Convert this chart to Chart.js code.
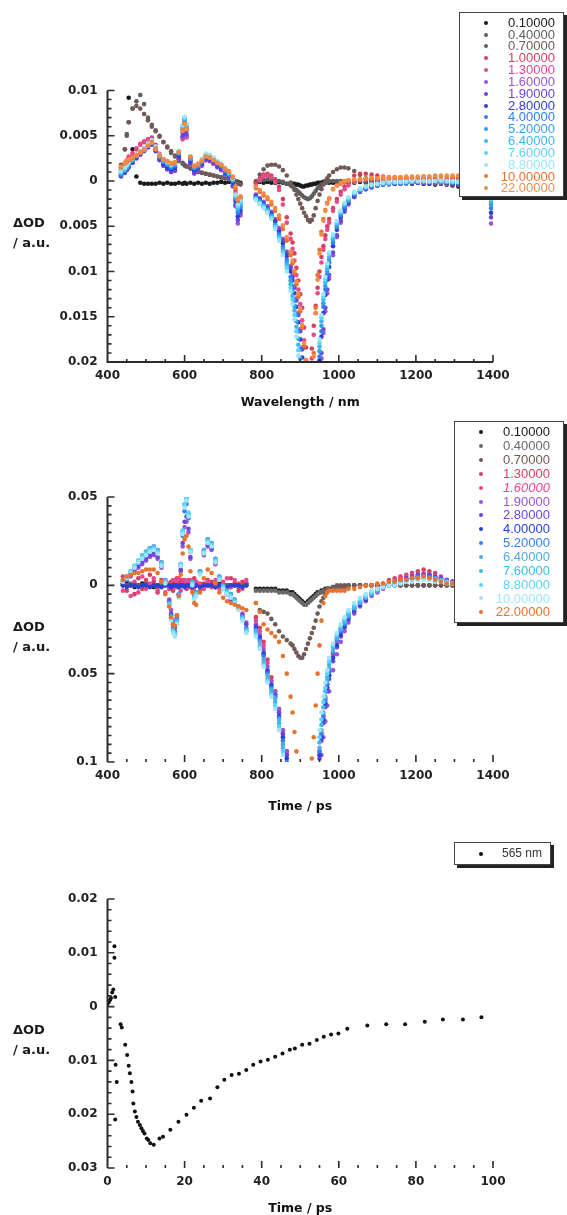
<!DOCTYPE html>
<html>
<head>
<meta charset="utf-8">
<title>Transient absorption</title>
<script src="https://cdn.jsdelivr.net/npm/chart.js@4.4.1/dist/chart.umd.min.js"></script>
<style>
  html, body { margin: 0; padding: 0; background: #fff; }
  body { position: relative; width: 567px; height: 1215px; overflow: hidden; }
  canvas { position: absolute; left: 0; }
  .ylab { position: absolute; left: 13px; font: bold 13px "DejaVu Sans", sans-serif; line-height: 20.5px; color: #1a1a1a; }
  .legend { position: absolute; background: #fff; border: 1px solid #444; box-shadow: 3px 3px 0 #222; font-family: "Liberation Sans", Arial, sans-serif; z-index: 2; }
  .legend .row { position: relative; }
  .legend .dot { position: absolute; width: 4px; height: 4px; border-radius: 50%; top: 50%; margin: -2px 0 0 -2px; }
  .legend .txt { position: absolute; top: 0; white-space: nowrap; }
</style>
</head>
<body>
<canvas id="c1" width="567" height="415" style="top:0"></canvas>
<canvas id="c2" width="567" height="405" style="top:415px"></canvas>
<canvas id="c3" width="567" height="400" style="top:820px"></canvas>
<div class="ylab" style="top:212.5px">ΔOD<br>/ a.u.</div>
<div class="ylab" style="top:616.5px">ΔOD<br>/ a.u.</div>
<div class="ylab" style="top:1019.5px">ΔOD<br>/ a.u.</div>
<div class="legend" id="leg1" style="left:459px;top:12px;width:103px;height:183px"></div>
<div class="legend" id="leg2" style="left:454px;top:421px;width:108px;height:200px"></div>
<div class="legend" id="leg3" style="left:454px;top:842px;width:95px;height:21px"></div>
<script>
// ---- chart 1: spectra, wavelength in nm ----
const wl1 = [435,445,450,455,465,475,485,495,505,515,525,535,545,555,565,575,585,595,600,605,615,625,635,645,655,665,675,685,695,705,715,725,732,738,745,
  785,795,805,815,825,835,845,855,865,875,880,885,890,895,900,905,910,915,920,925,930,935,940,945,950,955,960,965,970,975,985,995,1005,1015,1025,1040,1055,1070,1085,1100,1115,1130,1145,1160,1175,1190,1205,1220,1235,1250,1265,1280,1295,1310,1395];
const delays1 = ['0.10000','0.40000','0.70000','1.00000','1.30000','1.60000','1.90000','2.80000','4.00000','5.20000','6.40000','7.60000','8.80000','10.00000','22.00000'];
const colors1 = ['#1a1a1a','#5e5e5e','#6f5a55','#d6405f','#e8488c','#9a55d8','#6a45d8','#2a40d8','#3380f0','#35a0e8','#3cb8f0','#5cd4f8','#9ee4f6','#e8732f','#f28c45'];

const sp1_010 = [0.0010,0.0013,0.0020,0.0092,0.0035,0.0005,-0.0002,-0.0003,-0.0003,-0.0003,-0.0003,-0.0002,-0.0003,-0.0002,-0.0003,-0.0003,-0.0002,-0.0003,-0.0002,-0.0003,-0.0002,-0.0003,-0.0002,-0.0003,-0.0002,-0.0003,-0.0002,-0.0002,-0.0001,-0.0002,-0.0001,-0.0001,0,-0.0001,-0.0002,
  -0.0002,-0.0001,-0.0002,-0.0001,-0.0002,-0.0002,-0.0001,-0.0002,-0.0003,-0.0002,-0.0003,-0.0003,-0.0004,-0.0004,-0.0005,-0.0006,-0.0006,-0.0005,-0.0005,-0.0004,-0.0004,-0.0003,-0.0003,-0.0002,-0.0002,-0.0002,-0.0001,-0.0002,-0.0001,-0.0002,-0.0002,-0.0001,-0.0002,-0.0001,-0.0002,-0.0002,-0.0001,-0.0002,-0.0002,-0.0001,-0.0002,-0.0002,-0.0003,-0.0002,-0.0002,-0.0003,-0.0002,-0.0003,-0.0003,-0.0004,-0.0003,-0.0004,-0.0005,-0.0006,-0.0010];
const sp1_040 = [0.0018,0.0035,0.0050,0.0065,0.0080,0.0088,0.0095,0.0085,0.0070,0.0062,0.0056,0.0049,0.0043,0.0037,0.0031,0.0027,0.0022,0.0019,0.0017,0.0016,0.0014,0.0012,0.0010,0.0009,0.0008,0.0007,0.0006,0.0005,0.0004,0.0003,0.0002,0.0001,0,-0.0002,-0.0003,
  -0.0001,0,0.0001,0.0002,0.0002,0.0001,0,-0.0001,-0.0003,-0.0005,-0.0006,-0.0008,-0.0010,-0.0012,-0.0014,-0.0016,-0.0018,-0.0019,-0.0020,-0.0019,-0.0017,-0.0014,-0.0011,-0.0008,-0.0006,-0.0004,-0.0003,-0.0002,-0.0001,0,0,0,0,-0.0001,0,-0.0001,0,-0.0001,-0.0001,0,-0.0001,-0.0001,-0.0001,-0.0002,-0.0001,-0.0002,-0.0002,-0.0002,-0.0002,-0.0003,-0.0003,-0.0003,-0.0004,-0.0004,-0.0023];
const sp1_070 = [0.0015,0.0035,0.0052,0.0065,0.0080,0.0083,0.0080,0.0074,0.0067,0.0060,0.0055,0.0050,0.0043,0.0038,0.0033,0.0028,0.0024,0.0020,0.0018,0.0016,0.0014,0.0012,0.0010,0.0009,0.0008,0.0007,0.0006,0.0005,0.0004,0.0003,0.0002,0.0001,0,-0.0003,-0.0004,
  0,0.0007,0.0013,0.0017,0.0018,0.0018,0.0016,0.0012,0.0006,-0.0002,-0.0006,-0.0010,-0.0015,-0.0020,-0.0025,-0.0030,-0.0035,-0.0039,-0.0043,-0.0045,-0.0043,-0.0038,-0.0030,-0.0022,-0.0015,-0.0009,-0.0004,0,0.0003,0.0006,0.0010,0.0013,0.0015,0.0015,0.0014,0.0011,0.0007,0.0003,0.0001,0,0,0.0001,0,0,0.0001,0,0,0.0001,0,0.0001,0,0,0,-0.0001,-0.0015];
const sp1_100 = [0.0012,0.0018,0.0022,0.0026,0.0030,0.0035,0.0040,0.0043,0.0046,0.0048,0.0040,0.0030,0.0023,0.0020,0.0016,0.0017,0.0028,0.0048,0.0054,0.0049,0.0022,0.0012,0.0014,0.0019,0.0024,0.0023,0.0020,0.0017,0.0015,0.0011,0.0008,0.0002,-0.0010,-0.0024,-0.0019,
  -0.0003,0.0003,0.0007,0.0008,0.0006,0.0002,-0.0006,-0.0020,-0.0040,-0.0058,-0.0068,-0.0080,-0.0096,-0.0110,-0.0125,-0.0140,-0.0162,-0.0184,null,null,-0.0185,-0.0160,-0.0138,-0.0118,-0.0100,-0.0084,-0.0072,-0.0060,-0.0050,-0.0042,-0.0030,-0.0020,-0.0012,-0.0006,-0.0002,0.0006,0.0008,0.0008,0.0007,0.0006,0.0005,0.0004,0.0004,0.0003,0.0003,0.0003,0.0002,0.0003,0.0002,0.0003,0.0002,0.0002,0.0003,0.0003,-0.0010];
const sp1_130 = [0.0013,0.0019,0.0023,0.0027,0.0031,0.0036,0.0041,0.0044,0.0046,0.0047,0.0039,0.0029,0.0022,0.0018,0.0014,0.0015,0.0026,0.0046,0.0053,0.0048,0.0020,0.0010,0.0012,0.0017,0.0023,0.0022,0.0019,0.0016,0.0014,0.0010,0.0007,0.0001,-0.0013,-0.0028,-0.0022,
  -0.0005,0.0001,0.0005,0.0006,0.0004,-0.0001,-0.0010,-0.0026,-0.0046,-0.0064,-0.0075,-0.0088,-0.0104,-0.0120,-0.0136,-0.0154,-0.0176,-0.0198,null,null,-0.0196,-0.0170,-0.0146,-0.0124,-0.0106,-0.0090,-0.0076,-0.0064,-0.0054,-0.0046,-0.0033,-0.0023,-0.0015,-0.0009,-0.0005,-0.0001,0.0001,0.0002,0.0002,0.0002,0.0001,0.0001,0.0001,0,0.0001,0,0.0001,0.0001,0,0.0001,0,0,0.0001,0,-0.0018];
const sp1_160 = [0.0006,0.0010,0.0013,0.0016,0.0021,0.0026,0.0030,0.0034,0.0038,0.0041,0.0034,0.0024,0.0017,0.0013,0.0010,0.0011,0.0024,0.0048,0.0056,0.0050,0.0018,0.0008,0.0011,0.0017,0.0023,0.0022,0.0019,0.0015,0.0012,0.0007,0.0003,-0.0006,-0.0028,-0.0047,-0.0038,
  -0.0015,-0.0019,-0.0023,-0.0028,-0.0034,-0.0042,-0.0052,-0.0064,-0.0078,-0.0094,-0.0104,-0.0116,-0.0130,-0.0146,-0.0164,-0.0184,null,null,null,null,null,null,null,null,null,-0.0196,-0.0168,-0.0144,-0.0124,-0.0108,-0.0082,-0.0062,-0.0046,-0.0034,-0.0026,-0.0018,-0.0012,-0.0009,-0.0007,-0.0005,-0.0004,-0.0004,-0.0003,-0.0003,-0.0003,-0.0002,-0.0002,-0.0002,-0.0002,-0.0002,-0.0002,-0.0003,-0.0003,-0.0004,-0.0047];
const sp1_190 = [0.0005,0.0009,0.0012,0.0015,0.0020,0.0025,0.0029,0.0033,0.0037,0.0040,0.0033,0.0023,0.0017,0.0013,0.0010,0.0012,0.0025,0.0050,0.0058,0.0052,0.0019,0.0009,0.0012,0.0018,0.0024,0.0023,0.0020,0.0016,0.0013,0.0008,0.0004,-0.0005,-0.0026,-0.0043,-0.0035,
  -0.0016,-0.0020,-0.0025,-0.0030,-0.0036,-0.0044,-0.0054,-0.0066,-0.0080,-0.0096,-0.0106,-0.0118,-0.0132,-0.0148,-0.0166,-0.0186,null,null,null,null,null,null,null,null,null,-0.0190,-0.0164,-0.0140,-0.0120,-0.0104,-0.0079,-0.0060,-0.0044,-0.0033,-0.0025,-0.0017,-0.0012,-0.0009,-0.0007,-0.0005,-0.0004,-0.0003,-0.0003,-0.0003,-0.0002,-0.0002,-0.0002,-0.0002,-0.0002,-0.0001,-0.0002,-0.0002,-0.0003,-0.0003,-0.0040];
const sp1_280 = [0.0006,0.0010,0.0013,0.0016,0.0021,0.0026,0.0030,0.0034,0.0038,0.0041,0.0034,0.0025,0.0019,0.0015,0.0013,0.0015,0.0028,0.0054,0.0062,0.0056,0.0022,0.0012,0.0015,0.0020,0.0026,0.0025,0.0022,0.0018,0.0015,0.0010,0.0006,-0.0002,-0.0022,-0.0039,-0.0032,
  -0.0017,-0.0021,-0.0025,-0.0030,-0.0036,-0.0045,-0.0056,-0.0069,-0.0083,-0.0100,-0.0110,-0.0124,-0.0139,-0.0156,-0.0175,-0.0195,null,null,null,null,null,null,null,null,-0.0198,-0.0172,-0.0146,-0.0126,-0.0109,-0.0095,-0.0072,-0.0054,-0.0040,-0.0030,-0.0023,-0.0016,-0.0011,-0.0008,-0.0006,-0.0005,-0.0004,-0.0003,-0.0003,-0.0002,-0.0002,-0.0002,-0.0002,-0.0001,-0.0002,-0.0001,-0.0001,-0.0002,-0.0002,-0.0003,-0.0035];
const sp1_400 = [0.0007,0.0011,0.0014,0.0017,0.0022,0.0027,0.0031,0.0035,0.0039,0.0042,0.0035,0.0026,0.0021,0.0018,0.0015,0.0017,0.0030,0.0057,0.0066,0.0059,0.0024,0.0014,0.0016,0.0021,0.0027,0.0026,0.0023,0.0019,0.0016,0.0011,0.0007,0,-0.0020,-0.0035,-0.0029,
  -0.0018,-0.0022,-0.0026,-0.0031,-0.0038,-0.0048,-0.0059,-0.0073,-0.0087,-0.0106,-0.0117,-0.0132,-0.0148,-0.0166,-0.0186,null,null,null,null,null,null,null,null,null,-0.0194,-0.0166,-0.0139,-0.0120,-0.0103,-0.0090,-0.0068,-0.0051,-0.0038,-0.0029,-0.0022,-0.0015,-0.0011,-0.0008,-0.0006,-0.0005,-0.0004,-0.0003,-0.0002,-0.0002,-0.0002,-0.0001,-0.0001,-0.0001,-0.0001,-0.0001,-0.0001,-0.0001,-0.0002,-0.0002,-0.0030];
const sp1_520 = [0.0008,0.0012,0.0015,0.0018,0.0023,0.0028,0.0032,0.0036,0.0040,0.0043,0.0036,0.0027,0.0022,0.0019,0.0016,0.0018,0.0031,0.0059,0.0068,0.0061,0.0025,0.0015,0.0017,0.0022,0.0028,0.0027,0.0024,0.0020,0.0017,0.0012,0.0008,0.0001,-0.0018,-0.0032,-0.0027,
  -0.0019,-0.0023,-0.0027,-0.0032,-0.0039,-0.0049,-0.0061,-0.0075,-0.0090,-0.0110,-0.0122,-0.0138,-0.0155,-0.0174,-0.0196,null,null,null,null,null,null,null,null,null,-0.0188,-0.0160,-0.0135,-0.0116,-0.0100,-0.0087,-0.0065,-0.0049,-0.0036,-0.0027,-0.0021,-0.0014,-0.0010,-0.0007,-0.0005,-0.0004,-0.0003,-0.0003,-0.0002,-0.0002,-0.0001,-0.0001,-0.0001,-0.0001,-0.0001,0,-0.0001,-0.0001,-0.0001,-0.0002,-0.0026];
const sp1_640 = [0.0009,0.0013,0.0016,0.0019,0.0024,0.0028,0.0032,0.0036,0.0040,0.0044,0.0037,0.0028,0.0023,0.0020,0.0017,0.0019,0.0032,0.0060,0.0069,0.0062,0.0026,0.0016,0.0018,0.0023,0.0029,0.0028,0.0025,0.0021,0.0018,0.0013,0.0009,0.0002,-0.0017,-0.0030,-0.0025,
  -0.0020,-0.0024,-0.0028,-0.0033,-0.0040,-0.0050,-0.0062,-0.0077,-0.0093,-0.0114,-0.0127,-0.0143,-0.0161,-0.0181,null,null,null,null,null,null,null,null,null,null,-0.0183,-0.0155,-0.0131,-0.0112,-0.0097,-0.0084,-0.0063,-0.0047,-0.0035,-0.0026,-0.0020,-0.0013,-0.0009,-0.0007,-0.0005,-0.0004,-0.0003,-0.0002,-0.0002,-0.0001,-0.0001,-0.0001,-0.0001,0,-0.0001,0,0,-0.0001,-0.0001,-0.0001,-0.0022];
const sp1_760 = [0.0010,0.0014,0.0017,0.0020,0.0024,0.0028,0.0032,0.0036,0.0040,0.0045,0.0038,0.0029,0.0024,0.0021,0.0018,0.0020,0.0033,0.0061,0.0070,0.0063,0.0027,0.0017,0.0019,0.0024,0.0030,0.0028,0.0025,0.0021,0.0018,0.0013,0.0009,0.0002,-0.0016,-0.0028,-0.0023,
  -0.0020,-0.0025,-0.0029,-0.0034,-0.0041,-0.0051,-0.0064,-0.0079,-0.0096,-0.0118,-0.0131,-0.0148,-0.0166,-0.0187,null,null,null,null,null,null,null,null,null,null,-0.0179,-0.0151,-0.0128,-0.0109,-0.0094,-0.0081,-0.0061,-0.0046,-0.0034,-0.0025,-0.0019,-0.0013,-0.0009,-0.0006,-0.0004,-0.0003,-0.0002,-0.0002,-0.0001,-0.0001,-0.0001,0,0,0,-0.0001,0,0,0,-0.0001,-0.0001,-0.0020];
const sp1_880 = [0.0011,0.0015,0.0018,0.0021,0.0025,0.0029,0.0033,0.0036,0.0041,0.0045,0.0038,0.0029,0.0024,0.0021,0.0018,0.0020,0.0033,0.0062,0.0071,0.0063,0.0027,0.0017,0.0019,0.0024,0.0030,0.0029,0.0026,0.0022,0.0019,0.0014,0.0010,0.0003,-0.0015,-0.0026,-0.0021,
  -0.0021,-0.0025,-0.0030,-0.0035,-0.0042,-0.0053,-0.0066,-0.0082,-0.0100,-0.0122,-0.0136,-0.0153,-0.0172,-0.0193,null,null,null,null,null,null,null,null,null,null,-0.0175,-0.0148,-0.0125,-0.0106,-0.0091,-0.0079,-0.0059,-0.0044,-0.0033,-0.0024,-0.0018,-0.0012,-0.0008,-0.0006,-0.0004,-0.0003,-0.0002,-0.0001,-0.0001,-0.0001,0,0,0,0,0,0,0.0001,0,0,-0.0001,-0.0018];
const sp1_1000 = [0.0015,0.0019,0.0021,0.0023,0.0025,0.0028,0.0031,0.0034,0.0039,0.0043,0.0036,0.0028,0.0024,0.0022,0.0019,0.0020,0.0032,0.0056,0.0064,0.0058,0.0026,0.0016,0.0018,0.0022,0.0027,0.0026,0.0023,0.0020,0.0018,0.0013,0.0010,0.0004,-0.0008,-0.0022,-0.0018,
  -0.0008,-0.0012,-0.0016,-0.0020,-0.0026,-0.0033,-0.0042,-0.0053,-0.0066,-0.0082,-0.0091,-0.0102,-0.0114,-0.0128,-0.0144,-0.0162,-0.0182,null,null,null,null,-0.0190,-0.0140,-0.0104,-0.0076,-0.0056,-0.0042,-0.0032,-0.0024,-0.0019,-0.0009,-0.0005,-0.0003,-0.0001,0,0.0001,0.0002,0.0002,0.0003,0.0003,0.0003,0.0003,0.0004,0.0004,0.0004,0.0004,0.0004,0.0005,0.0005,0.0005,0.0005,0.0005,0.0005,0.0005,-0.0008];
const sp1_2200 = [0.0016,0.0020,0.0022,0.0024,0.0026,0.0029,0.0032,0.0035,0.0039,0.0042,0.0035,0.0028,0.0024,0.0022,0.0020,0.0021,0.0032,0.0055,0.0063,0.0057,0.0027,0.0017,0.0019,0.0023,0.0027,0.0026,0.0023,0.0020,0.0018,0.0014,0.0011,0.0005,-0.0006,-0.0020,-0.0017,
  -0.0006,-0.0010,-0.0014,-0.0018,-0.0023,-0.0030,-0.0038,-0.0049,-0.0062,-0.0078,-0.0088,-0.0099,-0.0111,-0.0125,-0.0141,-0.0159,-0.0179,-0.0199,null,null,null,-0.0194,-0.0146,-0.0109,-0.0080,-0.0059,-0.0044,-0.0033,-0.0025,-0.0020,-0.0009,-0.0005,-0.0002,0,0.0001,0.0002,0.0002,0.0003,0.0003,0.0003,0.0004,0.0004,0.0004,0.0004,0.0005,0.0005,0.0005,0.0005,0.0005,0.0006,0.0006,0.0006,0.0006,0.0006,-0.0006];

// ---- chart 2 ----
const wl2 = [440,450,460,470,480,490,500,510,520,530,540,550,560,565,570,575,580,585,590,595,600,605,610,615,620,625,630,640,650,660,670,680,690,700,710,720,730,740,750,760,
  785,795,805,815,825,835,845,855,865,875,880,885,890,895,900,905,910,915,920,925,930,935,940,945,950,955,960,965,970,975,985,995,1005,1015,1025,1040,1055,1070,1085,1100,1115,1130,1145,1160,1175,1190,1205,1220,1235,1250,1265,1280,1295];
const delays2 = ['0.10000','0.40000','0.70000','1.30000','1.60000','1.90000','2.80000','4.00000','5.20000','6.40000','7.60000','8.80000','10.00000','22.00000'];
const colors2 = ['#1a1a1a','#6a6a6a','#6f5a55','#d6405f','#e8488c','#9a55d8','#6a45d8','#2a40d8','#3380f0','#55a8e6','#3cbaf0','#5cd4f8','#a2e6f6','#e8732f'];

const sp2_010 = [0,0.001,0,-0.001,0,0.001,0,0,-0.001,0,0,0.001,0,0,-0.001,0,0,0.001,0,0,0,-0.001,0,0,0.001,0,0,0,-0.001,0,0,0,0.001,0,0,-0.001,0,0,0,0.001,
  -0.002,-0.002,-0.002,-0.002,-0.002,-0.002,-0.003,-0.003,-0.003,-0.004,-0.004,-0.005,-0.006,-0.007,-0.008,-0.009,-0.010,-0.010,-0.009,-0.008,-0.007,-0.006,-0.005,-0.004,-0.004,-0.003,-0.003,-0.002,-0.002,-0.002,-0.001,-0.001,-0.001,-0.001,0,0,0,0,0,0,0,0,0,0,0,0,0,0,0,0,0,0,0];
const sp2_040 = [0,0,0.001,0,-0.001,0,0.001,0,0,-0.001,0,0,0.001,0,0,0,-0.001,0,0.001,0,0,0,-0.001,0,0,0.001,0,0,0,0,-0.001,0,0,0.001,0,0,0,-0.001,0,0,
  -0.003,-0.003,-0.003,-0.003,-0.003,-0.003,-0.004,-0.004,-0.004,-0.005,-0.005,-0.006,-0.007,-0.008,-0.009,-0.010,-0.011,-0.011,-0.010,-0.009,-0.008,-0.007,-0.006,-0.005,-0.004,-0.004,-0.003,-0.003,-0.002,-0.002,-0.002,-0.001,-0.001,-0.001,-0.001,0,0,0,0,0,0,0,0,0,0,0,0,0,0,0,0,0,0];
const sp2_070 = [0.001,0,0,0.001,0,0,0.001,0,0,0,-0.001,0,0,0,0,-0.001,0,0,0,0.001,0,0,0,0,0,-0.001,0,0,0,0,0,-0.001,0,0,0,0,0.001,0,0,0,
  -0.010,-0.014,-0.015,-0.016,-0.019,-0.022,-0.026,-0.029,-0.031,-0.033,-0.034,-0.036,-0.038,-0.040,-0.041,-0.041,-0.039,-0.036,-0.033,-0.030,-0.027,-0.024,-0.020,-0.016,-0.012,-0.009,-0.007,-0.005,-0.003,-0.002,-0.001,0,0,0,0,0,0,0,0,0,0,0,0,0,0,0,0,0,0,0,0,0,0];
const sp2_130 = [0.005,-0.003,0.006,-0.005,0.004,-0.002,0.003,0.006,0.002,-0.004,0.003,0.001,-0.002,0.002,-0.003,0.001,0.004,-0.001,0.002,0.003,0.001,-0.002,0.003,0.001,-0.002,0.004,0.002,-0.003,0.001,0.003,0.002,-0.001,0.003,0.001,-0.002,0.004,0.001,-0.003,0.002,0.001,
  -0.018,-0.024,-0.032,-0.042,-0.052,-0.060,-0.070,-0.082,-0.094,null,null,null,null,null,null,null,null,null,null,null,null,null,null,null,-0.094,-0.084,-0.074,-0.064,-0.056,-0.049,-0.039,-0.031,-0.025,-0.020,-0.016,-0.012,-0.009,-0.006,-0.004,-0.001,0.001,0.003,0.004,0.005,0.006,0.007,0.008,0.009,0.008,0.007,0.005,0.003,0.002];
const sp2_160 = [-0.003,0.004,-0.006,0.002,-0.004,0.005,-0.002,0.001,0.004,-0.003,0.002,-0.004,0.001,-0.002,0.003,-0.001,0.002,0.004,-0.003,0.001,0.003,0.002,-0.001,0.003,0.001,-0.003,0.002,0.001,-0.002,0.002,-0.001,0.003,-0.002,0.002,0.004,-0.001,0.003,0.001,-0.002,0.003,
  -0.020,-0.026,-0.034,-0.044,-0.054,-0.062,-0.072,-0.084,-0.096,null,null,null,null,null,null,null,null,null,null,null,null,null,null,null,-0.096,-0.086,-0.076,-0.066,-0.058,-0.051,-0.041,-0.033,-0.027,-0.022,-0.017,-0.013,-0.010,-0.007,-0.004,-0.002,0,0.002,0.003,0.004,0.005,0.006,0.006,0.007,0.006,0.005,0.004,0.003,0.002];
const sp2_190 = [0.001,0.003,0.005,0.008,0.010,0.012,0.014,0.016,0.017,0.015,0.010,0.002,-0.008,-0.014,-0.020,-0.022,-0.017,-0.005,0.008,0.022,0.033,0.036,0.030,0.015,0.001,-0.006,-0.004,0.007,0.017,0.022,0.020,0.012,0.004,-0.002,-0.005,-0.007,-0.009,-0.012,-0.016,-0.021,
  -0.022,-0.028,-0.036,-0.046,-0.054,-0.060,-0.070,-0.082,-0.094,null,null,null,null,null,null,null,null,null,null,null,null,null,null,null,null,-0.096,-0.086,-0.077,-0.068,-0.060,-0.048,-0.039,-0.032,-0.026,-0.021,-0.016,-0.012,-0.009,-0.006,-0.004,-0.002,0,0.001,0.002,0.003,0.004,0.005,0.006,0.006,0.005,0.004,0.003,0.002];
const sp2_280 = [0.001,0.003,0.006,0.009,0.011,0.013,0.015,0.017,0.018,0.016,0.011,0.002,-0.009,-0.016,-0.022,-0.024,-0.018,-0.005,0.009,0.024,0.036,0.039,0.032,0.016,0.001,-0.006,-0.004,0.008,0.018,0.023,0.021,0.013,0.004,-0.002,-0.005,-0.008,-0.010,-0.013,-0.017,-0.022,
  -0.023,-0.029,-0.038,-0.048,-0.056,-0.062,-0.072,-0.084,-0.096,null,null,null,null,null,null,null,null,null,null,null,null,null,null,null,-0.098,-0.088,-0.078,-0.069,-0.060,-0.053,-0.043,-0.035,-0.029,-0.024,-0.019,-0.015,-0.011,-0.008,-0.005,-0.003,-0.001,0.001,0.002,0.003,0.004,0.005,0.006,0.006,0.006,0.005,0.004,0.003,0.002];
const sp2_400 = [0,-0.001,0,0,-0.001,0,0,-0.001,0,0,-0.001,0,0,-0.001,0,0,0,-0.001,0,0,-0.001,0,0,0,-0.001,0,0,-0.001,0,0,0,-0.001,0,0,-0.001,0,0,0,-0.001,0,
  -0.024,-0.030,-0.039,-0.049,-0.057,-0.063,-0.074,-0.086,-0.098,null,null,null,null,null,null,null,null,null,null,null,null,null,null,null,-0.096,-0.086,-0.076,-0.067,-0.058,-0.051,-0.041,-0.034,-0.028,-0.023,-0.019,-0.014,-0.011,-0.008,-0.005,-0.003,-0.001,0,0.001,0.002,0.003,0.004,0.005,0.005,0.005,0.004,0.003,0.002,0.001];
const sp2_520 = [0.002,0.004,0.007,0.010,0.013,0.016,0.019,0.021,0.022,0.020,0.013,0.003,-0.010,-0.017,-0.024,-0.026,-0.019,-0.005,0.011,0.028,0.042,0.046,0.038,0.019,0.002,-0.006,-0.004,0.008,0.020,0.026,0.024,0.015,0.005,-0.001,-0.003,-0.005,-0.008,-0.012,-0.018,-0.024,
  -0.025,-0.031,-0.040,-0.050,-0.058,-0.063,-0.075,-0.088,-0.100,null,null,null,null,null,null,null,null,null,null,null,null,null,null,null,-0.094,-0.084,-0.074,-0.065,-0.056,-0.049,-0.038,-0.031,-0.026,-0.022,-0.018,-0.013,-0.010,-0.007,-0.005,-0.003,-0.001,0,0.001,0.002,0.003,0.004,0.005,0.005,0.005,0.004,0.003,0.002,0.001];
const sp2_640 = [0.002,0.004,0.007,0.010,0.013,0.016,0.019,0.021,0.022,0.020,0.013,0.003,-0.010,-0.018,-0.025,-0.027,-0.020,-0.005,0.012,0.030,0.045,0.049,0.040,0.020,0.002,-0.006,-0.004,0.008,0.020,0.026,0.024,0.015,0.005,0,-0.003,-0.005,-0.008,-0.012,-0.018,-0.025,
  -0.026,-0.032,-0.042,-0.051,-0.059,-0.064,-0.076,-0.090,null,null,null,null,null,null,null,null,null,null,null,null,null,null,null,null,-0.092,-0.082,-0.072,-0.063,-0.054,-0.047,-0.037,-0.030,-0.025,-0.021,-0.017,-0.013,-0.010,-0.007,-0.005,-0.003,-0.001,0,0.001,0.002,0.003,0.004,0.004,0.005,0.004,0.004,0.003,0.002,0.001];
const sp2_760 = [0.003,0.005,0.008,0.011,0.014,0.017,0.019,0.021,0.021,0.019,0.012,0.002,-0.011,-0.019,-0.026,-0.028,-0.021,-0.006,0.012,0.031,0.046,0.050,0.041,0.020,0.001,-0.007,-0.005,0.007,0.019,0.025,0.023,0.014,0.004,-0.001,-0.004,-0.006,-0.009,-0.013,-0.019,-0.026,
  -0.027,-0.034,-0.044,-0.053,-0.061,-0.066,-0.078,-0.092,null,null,null,null,null,null,null,null,null,null,null,null,null,null,null,null,-0.089,-0.079,-0.069,-0.060,-0.052,-0.045,-0.035,-0.029,-0.024,-0.020,-0.016,-0.012,-0.009,-0.006,-0.004,-0.002,-0.001,0,0.001,0.002,0.003,0.003,0.004,0.004,0.004,0.003,0.003,0.002,0.001];
const sp2_880 = [0.003,0.005,0.008,0.011,0.014,0.016,0.018,0.020,0.021,0.019,0.012,0.002,-0.011,-0.019,-0.026,-0.028,-0.021,-0.006,0.012,0.031,0.046,0.050,0.041,0.020,0.001,-0.007,-0.005,0.007,0.019,0.025,0.023,0.014,0.004,-0.001,-0.004,-0.006,-0.009,-0.013,-0.019,-0.026,
  -0.028,-0.035,-0.045,-0.054,-0.062,-0.068,-0.080,-0.094,null,null,null,null,null,null,null,null,null,null,null,null,null,null,null,null,-0.086,-0.076,-0.066,-0.058,-0.050,-0.043,-0.034,-0.028,-0.023,-0.019,-0.015,-0.011,-0.008,-0.006,-0.004,-0.002,-0.001,0,0.001,0.001,0.002,0.003,0.003,0.004,0.003,0.003,0.002,0.002,0.001];
const sp2_1000 = [0.002,0.004,0.007,0.010,0.013,0.015,0.017,0.019,0.020,0.018,0.011,0.001,-0.012,-0.020,-0.027,-0.029,-0.022,-0.007,0.011,0.029,0.044,0.048,0.039,0.019,0,-0.008,-0.006,0.006,0.018,0.024,0.022,0.013,0.003,-0.002,-0.005,-0.007,-0.010,-0.014,-0.020,-0.027,
  -0.029,-0.036,-0.046,-0.055,-0.063,-0.070,-0.082,-0.096,null,null,null,null,null,null,null,null,null,null,null,null,null,null,null,null,-0.082,-0.072,-0.063,-0.055,-0.048,-0.041,-0.033,-0.027,-0.022,-0.018,-0.014,-0.010,-0.007,-0.005,-0.003,-0.002,-0.001,0,0,0.001,0.002,0.002,0.003,0.003,0.003,0.002,0.002,0.001,0.001];
const sp2_2200 = [0.003,0.005,0.006,0.007,0.007,0.008,0.009,0.009,0.009,0.007,0.002,-0.005,-0.012,-0.018,-0.022,-0.023,-0.017,-0.006,0.006,0.018,0.026,0.028,0.022,0.008,-0.004,-0.010,-0.011,-0.004,0.004,0.009,0.007,0.001,-0.004,-0.007,-0.009,-0.010,-0.011,-0.012,-0.013,-0.014,
  -0.010,-0.015,-0.022,-0.025,-0.027,-0.029,-0.032,-0.040,-0.050,-0.063,-0.072,-0.083,-0.094,null,null,null,null,null,null,null,-0.098,-0.086,-0.068,-0.050,-0.034,-0.020,-0.010,-0.006,-0.004,-0.003,-0.003,-0.003,-0.003,-0.003,-0.002,-0.002,-0.001,0,0,0.001,0.001,0.002,0.002,0.003,0.003,0.004,0.004,0.005,0.004,0.003,0.002,0.001,0.001];

// ---- chart 3: kinetic trace at 565 nm ----
const t3 = [0.0,0.3,0.6,0.9,1.2,1.5,1.8,1.8,2.0,2.1,2.4,2.0,3.4,3.7,4.6,5.1,5.5,5.8,6.2,6.5,6.7,7.1,7.5,7.9,8.4,8.8,9.2,9.6,10.2,10.6,11.1,12.0,13.5,14.4,16.3,18.4,20.5,22.4,24.3,26.6,28.5,30.3,32.2,34.1,36.0,37.8,39.7,41.6,43.5,45.4,47.3,48.6,50.5,52.4,54.3,56.1,58.0,59.9,62.2,67.4,72.3,77.2,82.3,87.0,92.2,97.0];
const od3 = [0.0005,0.0008,0.0012,0.0016,0.0026,0.0032,0.0112,0.0091,0.0018,-0.0108,-0.0140,-0.0210,-0.0033,-0.0039,-0.0071,-0.0090,-0.0110,-0.0124,-0.0140,-0.0158,-0.0180,-0.0195,-0.0205,-0.0214,-0.0220,-0.0226,-0.0231,-0.0236,-0.0245,-0.0248,-0.0254,-0.0257,-0.0245,-0.0242,-0.0229,-0.0214,-0.0201,-0.0188,-0.0175,-0.0171,-0.0150,-0.0136,-0.0127,-0.0125,-0.0118,-0.0108,-0.0102,-0.0099,-0.0093,-0.0087,-0.0080,-0.0078,-0.0071,-0.0069,-0.0062,-0.0056,-0.0052,-0.0050,-0.0041,-0.0035,-0.0033,-0.0033,-0.0028,-0.0024,-0.0024,-0.0020];

const tickFont = { family: 'DejaVu Sans', size: 12, weight: 'bold' };
const titleFont = { family: 'DejaVu Sans', size: 12.5, weight: 'bold' };

// inward tick marks and axis lines, placed through the chart's own scales
const axisTicks = {
  id: 'axisTicks',
  afterDatasetsDraw(chart, args, o) {
    const { ctx, chartArea: a, scales: { x, y } } = chart;
    ctx.save();
    ctx.strokeStyle = '#2b2b2b';
    ctx.lineWidth = 2;
    ctx.beginPath();
    ctx.moveTo(a.left, a.top);
    ctx.lineTo(a.left, a.bottom);
    if (o.xLine) ctx.lineTo(a.right, a.bottom);
    ctx.stroke();
    ctx.lineWidth = 1.6;
    ctx.beginPath();
    const ny = Math.round((y.max - y.min) / o.yMinor);
    for (let k = 0; k <= ny; k++) {
      const v = y.min + k * o.yMinor;
      const major = Math.abs(v / o.yMajor - Math.round(v / o.yMajor)) < 1e-6;
      const p = y.getPixelForValue(v);
      ctx.moveTo(a.left, p);
      ctx.lineTo(a.left + (major ? 7 : 4), p);
    }
    const nx = Math.round((x.max - x.min) / o.xMinor);
    for (let k = 1; k <= nx; k++) {
      const v = x.min + k * o.xMinor;
      const major = Math.abs(v / o.xMajor - Math.round(v / o.xMajor)) < 1e-6;
      const p = x.getPixelForValue(v);
      ctx.moveTo(p, a.bottom);
      ctx.lineTo(p, a.bottom - (major ? 7 : 3));
    }
    ctx.stroke();
    ctx.restore();
  }
};

function pointSets(xs, series, colors, r) {
  return series.map((vals, i) => ({
    data: xs.map((x, j) => ({ x: x, y: vals[j] })),
    backgroundColor: colors[i],
    borderWidth: 0,
    pointRadius: r,
    pointHoverRadius: r,
    order: -i
  }));
}

function absLabel(v) {
  return String(Math.abs(Math.round(v * 10000) / 10000));
}

function makeChart(id, datasets, o) {
  return new Chart(document.getElementById(id), {
    type: 'scatter',
    data: { datasets: datasets },
    options: {
      responsive: false,
      animation: false,
      events: [],
      layout: { padding: { left: 47.5, right: 74, top: o.padTop, bottom: o.padBottom } },
      plugins: { legend: { display: false }, tooltip: { enabled: false }, axisTicks: o.ticks },
      scales: {
        x: {
          type: 'linear', min: o.xMin, max: o.xMax,
          grid: { display: false, drawTicks: false },
          border: { display: false },
          ticks: { stepSize: o.xStep, padding: 7, color: '#222', font: tickFont, maxRotation: 0, autoSkip: false, callback: v => String(v) },
          title: { display: true, text: o.xTitle, color: '#111', font: titleFont, padding: { top: 0, bottom: o.titlePad } },
          afterFit: s => { s.height = o.xH; }
        },
        y: {
          min: o.yMin, max: o.yMax,
          grid: { display: false, drawTicks: false },
          border: { display: false },
          ticks: { stepSize: o.yStep, padding: 10, color: '#222', font: tickFont, callback: absLabel },
          afterFit: s => { s.width = 60; }
        }
      }
    },
    plugins: [axisTicks]
  });
}

function buildLegend(id, labels, colors, o) {
  const box = document.getElementById(id);
  box.style.paddingTop = o.padTop + 'px';
  box.style.height = (o.height - o.padTop) + 'px';
  labels.forEach((lab, i) => {
    const row = document.createElement('div');
    row.className = 'row';
    row.style.height = o.rowH + 'px';
    const dot = document.createElement('span');
    dot.className = 'dot';
    dot.style.left = o.dotX + 'px';
    dot.style.background = colors[i];
    const txt = document.createElement('span');
    txt.className = 'txt';
    txt.textContent = lab;
    txt.style.color = o.textColor || colors[i];
    txt.style.fontSize = o.fontSize + 'px';
    txt.style.lineHeight = o.rowH + 'px';
    if (o.textLeft != null) txt.style.left = o.textLeft + 'px'; else txt.style.right = o.textRight + 'px';
    if (o.italic && o.italic.includes(i)) txt.style.fontStyle = 'italic';
    row.appendChild(dot);
    row.appendChild(txt);
    box.appendChild(row);
  });
}

makeChart('c1', pointSets(wl1, [sp1_010, sp1_040, sp1_070, sp1_100, sp1_130, sp1_160, sp1_190, sp1_280, sp1_400, sp1_520, sp1_640, sp1_760, sp1_880, sp1_1000, sp1_2200], colors1, 2.3), {
  padTop: 90.5, padBottom: 3, xMin: 400, xMax: 1400, xStep: 200, yMin: -0.02, yMax: 0.01, yStep: 0.005,
  xTitle: 'Wavelength / nm', xH: 50, titlePad: 2,
  ticks: { yMinor: 0.001, yMajor: 0.005, xMinor: 50, xMajor: 200, xLine: true }
});

makeChart('c2', pointSets(wl2, [sp2_010, sp2_040, sp2_070, sp2_130, sp2_160, sp2_190, sp2_280, sp2_400, sp2_520, sp2_640, sp2_760, sp2_880, sp2_1000, sp2_2200], colors2, 2.3), {
  padTop: 82, padBottom: 6, xMin: 400, xMax: 1400, xStep: 200, yMin: -0.1, yMax: 0.05, yStep: 0.05,
  xTitle: 'Time / ps', xH: 52, titlePad: 0,
  ticks: { yMinor: 0.005, yMajor: 0.05, xMinor: 50, xMajor: 200, xLine: false }
});

makeChart('c3', pointSets(t3, [od3], ['#111111'], 2), {
  padTop: 79, padBottom: 2, xMin: 0, xMax: 100, xStep: 20, yMin: -0.03, yMax: 0.02, yStep: 0.01,
  xTitle: 'Time / ps', xH: 50, titlePad: 2,
  ticks: { yMinor: 0.002, yMajor: 0.01, xMinor: 5, xMajor: 20, xLine: false }
});

buildLegend('leg1', delays1, colors1, { padTop: 3.8, height: 183, rowH: 11.83, dotX: 26, textRight: 8, fontSize: 13 });
buildLegend('leg2', delays2, colors2, { padTop: 3.4, height: 200, rowH: 13.85, dotX: 26, textRight: 13, fontSize: 13, italic: [4] });
buildLegend('leg3', ['565 nm'], ['#111111'], { padTop: 0, height: 21, rowH: 21, dotX: 26, textLeft: 47, fontSize: 12, textColor: '#333' });
</script>
</body>
</html>
